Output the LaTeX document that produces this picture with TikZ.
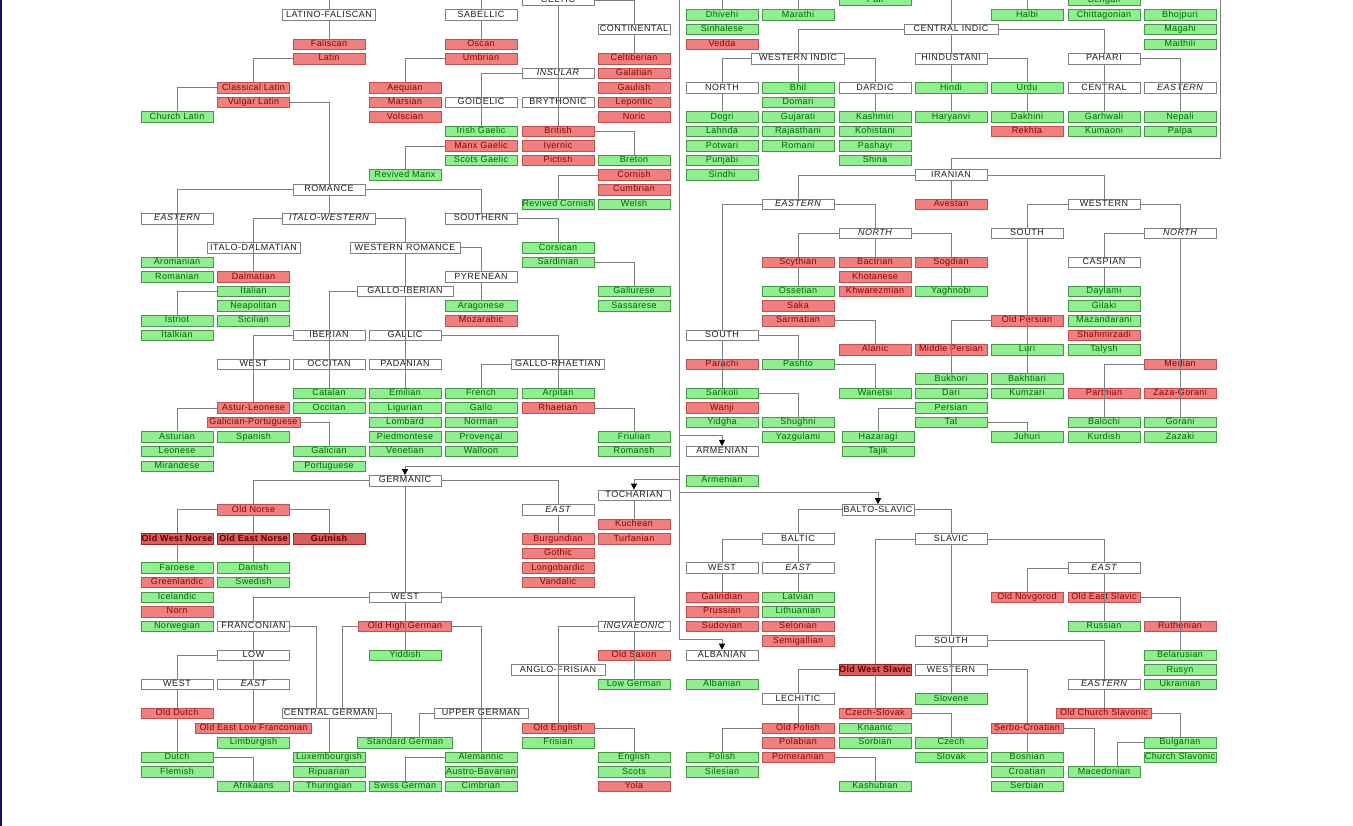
\documentclass[tikz,border=0pt]{standalone}
\usepackage{fontspec}
\setmainfont{Liberation Sans}
\newfontfamily\boxfont[LetterSpace=4]{Liberation Sans}
\newfontfamily\capfont[LetterSpace=6]{Liberation Sans}
\usetikzlibrary{arrows.meta}
\definecolor{gfill}{RGB}{144,238,144}
\definecolor{gdraw}{RGB}{70,150,70}
\definecolor{gtext}{RGB}{0,100,0}
\definecolor{rfill}{RGB}{240,128,128}
\definecolor{rdraw}{RGB}{190,80,80}
\definecolor{rtext}{RGB}{139,0,0}
\definecolor{drfill}{RGB}{218,92,92}
\definecolor{drdraw}{RGB}{150,40,40}
\definecolor{drtext}{RGB}{90,0,0}
\definecolor{wdraw}{RGB}{128,128,128}
\definecolor{wtext}{RGB}{30,30,30}
\definecolor{lcol}{RGB}{125,125,125}
\definecolor{edge}{RGB}{20,20,90}
\def\XA{177}\def\XB{253.5}\def\XC{329}\def\XD{405}\def\XE{481}\def\XF{558}\def\XG{634}
\def\XH{722}\def\XI{798}\def\XJ{875}\def\XJp{878}\def\XK{951}\def\XL{1027}\def\XM{1104}\def\XN{1180}
\newcommand\nd[6]{\node[#1,#2] (#3) at (#4,{-0.45-14.553*#5}) {#6};}
\tikzset{
  bx/.style={draw, minimum width=72pt, minimum height=10.5pt, inner sep=0pt,
    text height=6.4pt, text depth=1.9pt, font=\boxfont\fontsize{9}{10}\selectfont, line width=0.7pt},
  gn/.style={bx, fill=gfill, draw=gdraw, text=gtext},
  rd/.style={bx, fill=rfill, draw=rdraw, text=rtext},
  dr/.style={bx, fill=drfill, draw=drdraw, text=drtext, font=\boxfont\fontsize{9}{10}\selectfont\bfseries},
  wh/.style={bx, fill=white, draw=wdraw, text=wtext, font=\capfont\fontsize{9}{10}\selectfont},
  it/.style={font=\capfont\fontsize{9}{10}\selectfont\itshape},
  wd/.style={minimum width=#1pt},
  ln/.style={draw=lcol, line width=0.8pt},
  ar/.style={ln, -{Triangle[width=6pt,length=6pt,color=black,fill=black]}},
}
\begin{document}
\begin{tikzpicture}[x=1pt,y=1pt]
\useasboundingbox (0,0) rectangle (1353,-826);
\clip (0,0) rectangle (1353,-826);
\fill[white] (0,0) rectangle (1353,-826);
\fill[edge] (0,0) rectangle (1.6,-826);

% ---------------- Italic / Celtic
\nd{wh}{wd=93}{LatFal}{\XC}{1}{LATINO-FALISCAN}
\nd{wh}{}{Sabellic}{\XE}{1}{SABELLIC}
\nd{rd}{}{Faliscan}{\XC}{3}{Faliscan}
\nd{rd}{}{Latin}{\XC}{4}{Latin}
\nd{rd}{}{ClassLat}{\XB}{6}{Classical Latin}
\nd{rd}{}{VulgLat}{\XB}{7}{Vulgar Latin}
\nd{gn}{}{ChurchLat}{\XA}{8}{Church Latin}
\nd{rd}{}{Oscan}{\XE}{3}{Oscan}
\nd{rd}{}{Umbrian}{\XE}{4}{Umbrian}
\nd{rd}{}{Aequian}{\XD}{6}{Aequian}
\nd{rd}{}{Marsian}{\XD}{7}{Marsian}
\nd{rd}{}{Volscian}{\XD}{8}{Volscian}

\nd{wh}{}{Celtic}{\XF}{0}{CELTIC}
\nd{wh}{}{Continental}{\XG}{2}{CONTINENTAL}
\nd{rd}{}{Celtiberian}{\XG}{4}{Celtiberian}
\nd{rd}{}{Galatian}{\XG}{5}{Galatian}
\nd{rd}{}{Gaulish}{\XG}{6}{Gaulish}
\nd{rd}{}{Lepontic}{\XG}{7}{Lepontic}
\nd{rd}{}{Noric}{\XG}{8}{Noric}
\nd{wh}{it}{Insular}{\XF}{5}{INSULAR}
\nd{wh}{}{Goidelic}{\XE}{7}{GOIDELIC}
\nd{wh}{}{Brythonic}{\XF}{7}{BRYTHONIC}
\nd{gn}{}{IrishG}{\XE}{9}{Irish Gaelic}
\nd{rd}{}{ManxG}{\XE}{10}{Manx Gaelic}
\nd{gn}{}{ScotsG}{\XE}{11}{Scots Gaelic}
\nd{gn}{}{RevManx}{\XD}{12}{Revived Manx}
\nd{rd}{}{British}{\XF}{9}{British}
\nd{rd}{}{Ivernic}{\XF}{10}{Ivernic}
\nd{rd}{}{Pictish}{\XF}{11}{Pictish}
\nd{gn}{}{Breton}{\XG}{11}{Breton}
\nd{rd}{}{Cornish}{\XG}{12}{Cornish}
\nd{rd}{}{Cumbrian}{\XG}{13}{Cumbrian}
\nd{gn}{}{Welsh}{\XG}{14}{Welsh}
\nd{gn}{}{RevCornish}{\XF}{14}{Revived Cornish}

% ---------------- Romance
\nd{wh}{}{Romance}{\XC}{13}{ROMANCE}
\nd{wh}{it}{EasternR}{\XA}{15}{EASTERN}
\nd{wh}{it,wd=93}{ItaloWest}{\XC}{15}{ITALO-WESTERN}
\nd{wh}{}{Southern}{\XE}{15}{SOUTHERN}
\nd{wh}{wd=93}{ItaloDalm}{\XB}{17}{ITALO-DALMATIAN}
\nd{wh}{wd=110}{WestRom}{\XD}{17}{WESTERN ROMANCE}
\nd{gn}{}{Corsican}{\XF}{17}{Corsican}
\nd{gn}{}{Sardinian}{\XF}{18}{Sardinian}
\nd{gn}{}{Aromanian}{\XA}{18}{Aromanian}
\nd{gn}{}{Romanian}{\XA}{19}{Romanian}
\nd{rd}{}{Dalmatian}{\XB}{19}{Dalmatian}
\nd{gn}{}{Italian}{\XB}{20}{Italian}
\nd{gn}{}{Neapolitan}{\XB}{21}{Neapolitan}
\nd{gn}{}{Sicilian}{\XB}{22}{Sicilian}
\nd{gn}{}{Istriot}{\XA}{22}{Istriot}
\nd{gn}{}{Italkian}{\XA}{23}{Italkian}
\nd{wh}{}{Pyrenean}{\XE}{19}{PYRENEAN}
\nd{wh}{wd=96}{GalloIber}{\XD}{20}{GALLO-IBERIAN}
\nd{gn}{}{Gallurese}{\XG}{20}{Gallurese}
\nd{gn}{}{Sassarese}{\XG}{21}{Sassarese}
\nd{gn}{}{Aragonese}{\XE}{21}{Aragonese}
\nd{rd}{}{Mozarabic}{\XE}{22}{Mozarabic}
\nd{wh}{}{Iberian}{\XC}{23}{IBERIAN}
\nd{wh}{}{Gallic}{\XD}{23}{GALLIC}
\nd{wh}{}{WestIb}{\XB}{25}{WEST}
\nd{wh}{}{OccitanG}{\XC}{25}{OCCITAN}
\nd{wh}{}{Padanian}{\XD}{25}{PADANIAN}
\nd{wh}{wd=93}{GalloRhaet}{\XF}{25}{GALLO-RHAETIAN}
\nd{gn}{}{Catalan}{\XC}{27}{Catalan}
\nd{gn}{}{Occitan}{\XC}{28}{Occitan}
\nd{gn}{}{Emilian}{\XD}{27}{Emilian}
\nd{gn}{}{Ligurian}{\XD}{28}{Ligurian}
\nd{gn}{}{Lombard}{\XD}{29}{Lombard}
\nd{gn}{}{Piedmontese}{\XD}{30}{Piedmontese}
\nd{gn}{}{Venetian}{\XD}{31}{Venetian}
\nd{gn}{}{French}{\XE}{27}{French}
\nd{gn}{}{Gallo}{\XE}{28}{Gallo}
\nd{gn}{}{Norman}{\XE}{29}{Norman}
\nd{gn}{}{Provencal}{\XE}{30}{Provençal}
\nd{gn}{}{Walloon}{\XE}{31}{Walloon}
\nd{gn}{}{Arpitan}{\XF}{27}{Arpitan}
\nd{rd}{}{Rhaetian}{\XF}{28}{Rhaetian}
\nd{gn}{}{Friulian}{\XG}{30}{Friulian}
\nd{gn}{}{Romansh}{\XG}{31}{Romansh}
\nd{rd}{}{AsturLeon}{\XB}{28}{Astur-Leonese}
\nd{rd}{wd=93}{GalPort}{\XB}{29}{Galician-Portuguese}
\nd{gn}{}{Spanish}{\XB}{30}{Spanish}
\nd{gn}{}{Asturian}{\XA}{30}{Asturian}
\nd{gn}{}{Leonese}{\XA}{31}{Leonese}
\nd{gn}{}{Mirandese}{\XA}{32}{Mirandese}
\nd{gn}{}{Galician}{\XC}{31}{Galician}
\nd{gn}{}{Portuguese}{\XC}{32}{Portuguese}

% ---------------- Germanic / Tocharian
\nd{wh}{}{Germanic}{\XD}{33}{GERMANIC}
\nd{wh}{}{Tocharian}{\XG}{34}{TOCHARIAN}
\nd{rd}{}{OldNorse}{\XB}{35}{Old Norse}
\nd{wh}{it}{EastG}{\XF}{35}{EAST}
\nd{rd}{}{Kuchean}{\XG}{36}{Kuchean}
\nd{rd}{}{Turfanian}{\XG}{37}{Turfanian}
\nd{dr}{}{OWN}{\XA}{37}{Old West Norse}
\nd{dr}{}{OEN}{\XB}{37}{Old East Norse}
\nd{dr}{}{Gutnish}{\XC}{37}{Gutnish}
\nd{rd}{}{Burgundian}{\XF}{37}{Burgundian}
\nd{rd}{}{Gothic}{\XF}{38}{Gothic}
\nd{rd}{}{Longobardic}{\XF}{39}{Longobardic}
\nd{rd}{}{Vandalic}{\XF}{40}{Vandalic}
\nd{gn}{}{Faroese}{\XA}{39}{Faroese}
\nd{rd}{}{Greenlandic}{\XA}{40}{Greenlandic}
\nd{gn}{}{Icelandic}{\XA}{41}{Icelandic}
\nd{rd}{}{Norn}{\XA}{42}{Norn}
\nd{gn}{}{Norwegian}{\XA}{43}{Norwegian}
\nd{gn}{}{Danish}{\XB}{39}{Danish}
\nd{gn}{}{Swedish}{\XB}{40}{Swedish}
\nd{wh}{}{WestG}{\XD}{41}{WEST}
\nd{wh}{}{Franconian}{\XB}{43}{FRANCONIAN}
\nd{rd}{wd=93}{OHG}{\XD}{43}{Old High German}
\nd{wh}{it}{Ingvaeonic}{\XG}{43}{INGVAEONIC}
\nd{wh}{}{Low}{\XB}{45}{LOW}
\nd{gn}{}{Yiddish}{\XD}{45}{Yiddish}
\nd{rd}{}{OldSaxon}{\XG}{45}{Old Saxon}
\nd{wh}{wd=94}{AngloFris}{\XF}{46}{ANGLO-FRISIAN}
\nd{wh}{}{WestL}{\XA}{47}{WEST}
\nd{wh}{it}{EastL}{\XB}{47}{EAST}
\nd{gn}{}{LowGerman}{\XG}{47}{Low German}
\nd{rd}{}{OldDutch}{\XA}{49}{Old Dutch}
\nd{wh}{wd=94}{CentralG}{\XC}{49}{CENTRAL GERMAN}
\nd{wh}{wd=94}{UpperG}{\XE}{49}{UPPER GERMAN}
\nd{rd}{wd=116}{OELF}{\XB}{50}{Old East Low Franconian}
\nd{rd}{}{OldEnglish}{\XF}{50}{Old English}
\nd{gn}{}{Limburgish}{\XB}{51}{Limburgish}
\nd{gn}{wd=95}{StdGerman}{\XD}{51}{Standard German}
\nd{gn}{}{Frisian}{\XF}{51}{Frisian}
\nd{gn}{}{Dutch}{\XA}{52}{Dutch}
\nd{gn}{}{Flemish}{\XA}{53}{Flemish}
\nd{gn}{}{Luxembourgish}{\XC}{52}{Luxembourgish}
\nd{gn}{}{Ripuarian}{\XC}{53}{Ripuarian}
\nd{gn}{}{Thuringian}{\XC}{54}{Thuringian}
\nd{gn}{}{Alemannic}{\XE}{52}{Alemannic}
\nd{gn}{}{AustroBav}{\XE}{53}{Austro-Bavarian}
\nd{gn}{}{Cimbrian}{\XE}{54}{Cimbrian}
\nd{gn}{}{English}{\XG}{52}{English}
\nd{gn}{}{Scots}{\XG}{53}{Scots}
\nd{rd}{}{Yola}{\XG}{54}{Yola}
\nd{gn}{}{Afrikaans}{\XB}{54}{Afrikaans}
\nd{gn}{}{SwissGerman}{\XD}{54}{Swiss German}

% ---------------- Indo-Aryan
\nd{gn}{}{Pali}{\XJ}{0}{Pali}
\nd{gn}{}{Bengali}{\XM}{0}{Bengali}
\nd{gn}{}{Dhivehi}{\XH}{1}{Dhivehi}
\nd{gn}{}{Sinhalese}{\XH}{2}{Sinhalese}
\nd{rd}{}{Vedda}{\XH}{3}{Vedda}
\nd{gn}{}{Marathi}{\XI}{1}{Marathi}
\nd{gn}{}{Halbi}{\XL}{1}{Halbi}
\nd{gn}{}{Chittagonian}{\XM}{1}{Chittagonian}
\nd{gn}{}{Bhojpuri}{\XN}{1}{Bhojpuri}
\nd{gn}{}{Magahi}{\XN}{2}{Magahi}
\nd{gn}{}{Maithili}{\XN}{3}{Maithili}
\nd{wh}{wd=94}{CentralIndic}{\XK}{2}{CENTRAL INDIC}
\nd{wh}{wd=93}{WestIndic}{\XI}{4}{WESTERN INDIC}
\nd{wh}{}{Hindustani}{\XK}{4}{HINDUSTANI}
\nd{wh}{}{Pahari}{\XM}{4}{PAHARI}
\nd{wh}{}{NorthIA}{\XH}{6}{NORTH}
\nd{gn}{}{Bhil}{\XI}{6}{Bhil}
\nd{gn}{}{Domari}{\XI}{7}{Domari}
\nd{gn}{}{Gujarati}{\XI}{8}{Gujarati}
\nd{gn}{}{Rajasthani}{\XI}{9}{Rajasthani}
\nd{gn}{}{Romani}{\XI}{10}{Romani}
\nd{wh}{}{Dardic}{\XJ}{6}{DARDIC}
\nd{gn}{}{Hindi}{\XK}{6}{Hindi}
\nd{gn}{}{Haryanvi}{\XK}{8}{Haryanvi}
\nd{gn}{}{Urdu}{\XL}{6}{Urdu}
\nd{gn}{}{Dakhini}{\XL}{8}{Dakhini}
\nd{rd}{}{Rekhta}{\XL}{9}{Rekhta}
\nd{wh}{}{CentralP}{\XM}{6}{CENTRAL}
\nd{wh}{it}{EasternP}{\XN}{6}{EASTERN}
\nd{gn}{}{Garhwali}{\XM}{8}{Garhwali}
\nd{gn}{}{Kumaoni}{\XM}{9}{Kumaoni}
\nd{gn}{}{Nepali}{\XN}{8}{Nepali}
\nd{gn}{}{Palpa}{\XN}{9}{Palpa}
\nd{gn}{}{Dogri}{\XH}{8}{Dogri}
\nd{gn}{}{Lahnda}{\XH}{9}{Lahnda}
\nd{gn}{}{Potwari}{\XH}{10}{Potwari}
\nd{gn}{}{Punjabi}{\XH}{11}{Punjabi}
\nd{gn}{}{Sindhi}{\XH}{12}{Sindhi}
\nd{gn}{}{Kashmiri}{\XJ}{8}{Kashmiri}
\nd{gn}{}{Kohistani}{\XJ}{9}{Kohistani}
\nd{gn}{}{Pashayi}{\XJ}{10}{Pashayi}
\nd{gn}{}{Shina}{\XJ}{11}{Shina}

% ---------------- Iranian
\nd{wh}{}{Iranian}{\XK}{12}{IRANIAN}
\nd{wh}{it}{EasternI}{\XI}{14}{EASTERN}
\nd{rd}{}{Avestan}{\XK}{14}{Avestan}
\nd{wh}{}{WesternI}{\XM}{14}{WESTERN}
\nd{wh}{it}{NorthE}{\XJ}{16}{NORTH}
\nd{wh}{}{SouthW}{\XL}{16}{SOUTH}
\nd{wh}{it}{NorthW}{\XN}{16}{NORTH}
\nd{rd}{}{Scythian}{\XI}{18}{Scythian}
\nd{rd}{}{Bactrian}{\XJ}{18}{Bactrian}
\nd{rd}{}{Sogdian}{\XK}{18}{Sogdian}
\nd{wh}{}{Caspian}{\XM}{18}{CASPIAN}
\nd{rd}{}{Khotanese}{\XJ}{19}{Khotanese}
\nd{gn}{}{Ossetian}{\XI}{20}{Ossetian}
\nd{rd}{}{Khwarezmian}{\XJ}{20}{Khwarezmian}
\nd{gn}{}{Yaghnobi}{\XK}{20}{Yaghnobi}
\nd{gn}{}{Daylami}{\XM}{20}{Daylami}
\nd{rd}{}{Saka}{\XI}{21}{Saka}
\nd{gn}{}{Gilaki}{\XM}{21}{Gilaki}
\nd{rd}{}{Sarmatian}{\XI}{22}{Sarmatian}
\nd{rd}{}{OldPersian}{\XL}{22}{Old Persian}
\nd{gn}{}{Mazandarani}{\XM}{22}{Mazandarani}
\nd{wh}{}{SouthE}{\XH}{23}{SOUTH}
\nd{rd}{}{Shahmirzadi}{\XM}{23}{Shahmirzadi}
\nd{rd}{}{Alanic}{\XJ}{24}{Alanic}
\nd{rd}{}{MidPersian}{\XK}{24}{Middle Persian}
\nd{gn}{}{Luri}{\XL}{24}{Luri}
\nd{gn}{}{Talysh}{\XM}{24}{Talysh}
\nd{rd}{}{Parachi}{\XH}{25}{Parachi}
\nd{gn}{}{Pashto}{\XI}{25}{Pashto}
\nd{rd}{}{Median}{\XN}{25}{Median}
\nd{gn}{}{Bukhori}{\XK}{26}{Bukhori}
\nd{gn}{}{Bakhtiari}{\XL}{26}{Bakhtiari}
\nd{gn}{}{Sarikoli}{\XH}{27}{Sarikoli}
\nd{gn}{}{Wanetsi}{\XJ}{27}{Wanetsi}
\nd{gn}{}{Dari}{\XK}{27}{Dari}
\nd{gn}{}{Kumzari}{\XL}{27}{Kumzari}
\nd{rd}{}{Parthian}{\XM}{27}{Parthian}
\nd{rd}{}{ZazaGorani}{\XN}{27}{Zaza-Gorani}
\nd{rd}{}{Wanji}{\XH}{28}{Wanji}
\nd{gn}{}{Persian}{\XK}{28}{Persian}
\nd{gn}{}{Yidgha}{\XH}{29}{Yidgha}
\nd{gn}{}{Shughni}{\XI}{29}{Shughni}
\nd{gn}{}{Tat}{\XK}{29}{Tat}
\nd{gn}{}{Balochi}{\XM}{29}{Balochi}
\nd{gn}{}{Gorani}{\XN}{29}{Gorani}
\nd{gn}{}{Yazgulami}{\XI}{30}{Yazgulami}
\nd{gn}{}{Hazaragi}{\XJp}{30}{Hazaragi}
\nd{gn}{}{Juhuri}{\XL}{30}{Juhuri}
\nd{gn}{}{Kurdish}{\XM}{30}{Kurdish}
\nd{gn}{}{Zazaki}{\XN}{30}{Zazaki}
\nd{gn}{}{Tajik}{\XJp}{31}{Tajik}
\nd{wh}{}{ArmenianG}{\XH}{31}{ARMENIAN}
\nd{gn}{}{Armenian}{\XH}{33}{Armenian}

% ---------------- Balto-Slavic / Albanian
\nd{wh}{}{BaltoSlavic}{\XJp}{35}{BALTO-SLAVIC}
\nd{wh}{}{Baltic}{\XI}{37}{BALTIC}
\nd{wh}{}{Slavic}{\XK}{37}{SLAVIC}
\nd{wh}{}{WestB}{\XH}{39}{WEST}
\nd{wh}{it}{EastB}{\XI}{39}{EAST}
\nd{wh}{it}{EastS}{\XM}{39}{EAST}
\nd{rd}{}{Galindian}{\XH}{41}{Galindian}
\nd{rd}{}{Prussian}{\XH}{42}{Prussian}
\nd{rd}{}{Sudovian}{\XH}{43}{Sudovian}
\nd{gn}{}{Latvian}{\XI}{41}{Latvian}
\nd{gn}{}{Lithuanian}{\XI}{42}{Lithuanian}
\nd{rd}{}{Selonian}{\XI}{43}{Selonian}
\nd{rd}{}{Semigallian}{\XI}{44}{Semigallian}
\nd{rd}{}{OldNovgorod}{\XL}{41}{Old Novgorod}
\nd{rd}{}{OES}{\XM}{41}{Old East Slavic}
\nd{gn}{}{Russian}{\XM}{43}{Russian}
\nd{rd}{}{Ruthenian}{\XN}{43}{Ruthenian}
\nd{wh}{}{SouthS}{\XK}{44}{SOUTH}
\nd{wh}{}{AlbanianG}{\XH}{45}{ALBANIAN}
\nd{gn}{}{Belarusian}{\XN}{45}{Belarusian}
\nd{gn}{}{Rusyn}{\XN}{46}{Rusyn}
\nd{gn}{}{Ukrainian}{\XN}{47}{Ukrainian}
\nd{dr}{}{OWS}{\XJ}{46}{Old West Slavic}
\nd{wh}{}{WesternS}{\XK}{46}{WESTERN}
\nd{gn}{}{Albanian}{\XH}{47}{Albanian}
\nd{wh}{it}{EasternS}{\XM}{47}{EASTERN}
\nd{wh}{}{Lechitic}{\XI}{48}{LECHITIC}
\nd{gn}{}{Slovene}{\XK}{48}{Slovene}
\nd{rd}{}{CzechSlovak}{\XJ}{49}{Czech-Slovak}
\nd{rd}{wd=95}{OCS}{\XM}{49}{Old Church Slavonic}
\nd{rd}{}{OldPolish}{\XI}{50}{Old Polish}
\nd{gn}{}{Knaanic}{\XJ}{50}{Knaanic}
\nd{rd}{}{SerboCroatian}{\XL}{50}{Serbo-Croatian}
\nd{rd}{}{Polabian}{\XI}{51}{Polabian}
\nd{gn}{}{Sorbian}{\XJ}{51}{Sorbian}
\nd{gn}{}{Czech}{\XK}{51}{Czech}
\nd{gn}{}{Bulgarian}{\XN}{51}{Bulgarian}
\nd{gn}{}{Polish}{\XH}{52}{Polish}
\nd{rd}{}{Pomeranian}{\XI}{52}{Pomeranian}
\nd{gn}{}{Slovak}{\XK}{52}{Slovak}
\nd{gn}{}{Bosnian}{\XL}{52}{Bosnian}
\nd{gn}{}{ChurchSlavonic}{\XN}{52}{Church Slavonic}
\nd{gn}{}{Silesian}{\XH}{53}{Silesian}
\nd{gn}{}{Croatian}{\XL}{53}{Croatian}
\nd{gn}{}{Macedonian}{\XM}{53}{Macedonian}
\nd{gn}{}{Kashubian}{\XJ}{54}{Kashubian}
\nd{gn}{}{Serbian}{\XL}{54}{Serbian}

% ================= connectors
\begin{scope}[ln]
% Italic
\draw (LatFal.north) -- ++(0,20);
\draw (Sabellic.north) -- ++(0,20);
\draw (LatFal.south) -- (Faliscan.north);
\draw (Latin.west) -| (ClassLat.north);
\draw (ClassLat.west) -| (ChurchLat.north);
\draw (VulgLat.east) -| (Romance.north);
\draw (Sabellic.south) -- (Oscan.north);
\draw (Umbrian.west) -| (Aequian.north);
% Celtic
\draw (Celtic.south) -- (British.north);
\draw (Celtic.east) -| (Continental.north);
\draw (Continental.south) -- (Celtiberian.north);
\draw (Insular.west) -| (IrishG.north);
\draw (ManxG.west) -| (RevManx.north);
\draw (British.east) -| (Breton.north);
\draw (Cornish.west) -| (RevCornish.north);
% Romance
\draw (Romance.west) -| (Aromanian.north);
\draw (Romance.south) -- (ItaloWest.north);
\draw (Romance.east) -| (Southern.north);
\draw (Southern.east) -| (Corsican.north);
\draw (Sardinian.east) -| (Gallurese.north);
\draw (ItaloWest.west) -| (Dalmatian.north);
\draw (ItaloWest.east) -| (WestRom.north);
\draw (Italian.west) -| (Istriot.north);
\draw (WestRom.east) -| (Pyrenean.north);
\draw (Pyrenean.south) -- (Aragonese.north);
\draw (WestRom.south) -- (GalloIber.north);
\draw (GalloIber.west) -| (Catalan.north);
\draw (GalloIber.south) -- (Emilian.north);
\draw (Iberian.west) -| (AsturLeon.north);
\draw (AsturLeon.west) -| (Asturian.north);
\draw (GalPort.east) -| (Galician.north);
\draw (Gallic.east) -| (Arpitan.north);
\draw (GalloRhaet.west) -| (French.north);
\draw (Rhaetian.east) -| (Friulian.north);
% Germanic
\draw (Germanic.west) -| (OldNorse.north);
\draw (Germanic.south) -- (WestG.north);
\draw (Germanic.east) -| (EastG.north);
\draw (EastG.south) -- (Burgundian.north);
\draw (Tocharian.south) -- (Kuchean.north);
\draw (OldNorse.west) -| (OWN.north);
\draw (OldNorse.south) -- (OEN.north);
\draw (OldNorse.east) -| (Gutnish.north);
\draw (OWN.south) -- (Faroese.north);
\draw (OEN.south) -- (Danish.north);
\draw (WestG.west) -| (Franconian.north);
\draw (WestG.east) -| (Ingvaeonic.north);
\draw (WestG.south) -- (Yiddish.north);
\draw (Franconian.south) -- (Low.north);
\draw (Franconian.east) -| ([xshift=-13pt]CentralG.north);
\draw (OHG.west) -| ([xshift=13pt]CentralG.north);
\draw (OHG.east) -| (Alemannic.north);
\draw (Low.west) -| (WestL.north);
\draw (Low.south) -- (EastL.north);
\draw (WestL.south) -- (OldDutch.north);
\draw (EastL.south) -- (OELF.north);
\draw (OldDutch.south) -- (Dutch.north);
\draw (Dutch.east) -| (Afrikaans.north);
\draw (CentralG.south) -- (Luxembourgish.north);
\draw (CentralG.east) -| ([xshift=-14pt]StdGerman.north);
\draw (UpperG.west) -| ([xshift=14pt]StdGerman.north);
\draw (Alemannic.west) -| (SwissGerman.north);
\draw (Ingvaeonic.south) -- (LowGerman.north);
\draw (Ingvaeonic.west) -| (OldEnglish.north);
\draw (OldEnglish.east) -| (English.north);
% Indo-Aryan
\draw (Dhivehi.north) -- ++(0,20);
\draw (Marathi.north) -- ++(0,20);
\draw (CentralIndic.north) -- ++(0,40);
\draw (Halbi.north) -- ++(0,20);
\draw (CentralIndic.west) -| (WestIndic.north);
\draw (CentralIndic.south) -- (Hindustani.north);
\draw (CentralIndic.east) -| (Pahari.north);
\draw (WestIndic.west) -| (NorthIA.north);
\draw (WestIndic.south) -- (Bhil.north);
\draw (WestIndic.east) -| (Dardic.north);
\draw (NorthIA.south) -- (Dogri.north);
\draw (Dardic.south) -- (Kashmiri.north);
\draw (Hindustani.south) -- (Hindi.north);
\draw (Hindustani.east) -| (Urdu.north);
\draw (Hindi.south) -- (Haryanvi.north);
\draw (Urdu.south) -- (Dakhini.north);
\draw (Pahari.south) -- (Garhwali.north);
\draw (Pahari.east) -| (Nepali.north);
% Iranian
\coordinate (iiroot) at (1220,10);
\coordinate (iibend) at ([yshift=10.6pt]Iranian.north);
\draw (iiroot) |- (iibend) -- (Iranian.north);
\draw (Iranian.south) -- (Avestan.north);
\draw (Iranian.west) -| (EasternI.north);
\draw (Iranian.east) -| (WesternI.north);
\draw (EasternI.west) -| (SouthE.north);
\draw (EasternI.east) -| (NorthE.north);
\draw (NorthE.west) -| (Scythian.north);
\draw (NorthE.south) -- (Bactrian.north);
\draw (NorthE.east) -| (Sogdian.north);
\draw (Scythian.south) -- (Ossetian.north);
\draw (Sogdian.south) -- (Yaghnobi.north);
\draw (Sarmatian.east) -| (Alanic.north);
\draw (SouthE.south) -- (Sarikoli.north);
\draw (SouthE.east) -| (Pashto.north);
\draw (Pashto.east) -| (Wanetsi.north);
\draw (Sarikoli.east) -| (Shughni.north);
\draw (WesternI.west) -| (SouthW.north);
\draw (WesternI.east) -| (NorthW.north);
\draw (SouthW.south) -- (Bakhtiari.north);
\draw (OldPersian.west) -| (Bukhori.north);
\draw (Persian.west) -| (Hazaragi.north);
\draw (Tat.east) -| (Juhuri.north);
\draw (NorthW.west) -| (Caspian.north);
\draw (NorthW.south) -- (Gorani.north);
\draw (Caspian.south) -- (Daylami.north);
\draw (Median.west) -| (Balochi.north);
% Balto-Slavic
\draw (BaltoSlavic.west) -| (Baltic.north);
\draw (BaltoSlavic.east) -| (Slavic.north);
\draw (Baltic.west) -| (WestB.north);
\draw (Baltic.south) -- (EastB.north);
\draw (WestB.south) -- (Galindian.north);
\draw (EastB.south) -- (Latvian.north);
\draw (Slavic.west) -| (OWS.north);
\draw (Slavic.south) -- (SouthS.north);
\draw (Slavic.east) -| (EastS.north);
\draw (EastS.west) -| (OldNovgorod.north);
\draw (EastS.south) -- (Russian.north);
\draw (OES.east) -| (Belarusian.north);
\draw (SouthS.south) -- (Slovene.north);
\draw (SouthS.east) -| (EasternS.north);
\draw (WesternS.east) -| (SerboCroatian.north);
\draw (SerboCroatian.south) -- (Bosnian.north);
\draw (SerboCroatian.east) -| ([xshift=-10pt]Macedonian.north);
\draw (EasternS.south) -- (OCS.north);
\draw (OCS.east) -| (Bulgarian.north);
\draw (Bulgarian.west) -| ([xshift=13pt]Macedonian.north);
\draw (OWS.west) -| (Lechitic.north);
\draw (OWS.south) -- (CzechSlovak.north);
\draw (CzechSlovak.east) -| (Czech.north);
\draw (Lechitic.south) -- (OldPolish.north);
\draw (OldPolish.west) -| (Polish.north);
\draw (Pomeranian.east) -| (Kashubian.north);
\end{scope}

% ---------------- Indo-European trunk with arrows
\coordinate (ie) at (679,10);
\coordinate (aAlb) at ([yshift=10.6pt]AlbanianG.north);
\coordinate (aArm) at ([yshift=10.6pt]ArmenianG.north);
\coordinate (aGer) at ([yshift=9pt]Germanic.north);
\coordinate (aToc) at ([yshift=10.6pt]Tocharian.north);
\coordinate (aBS) at ([yshift=12pt]BaltoSlavic.north);
\draw[ar] (ie) |- (aAlb) -- (AlbanianG.north);
\draw[ar] (ie |- aArm) -- (aArm) -- (ArmenianG.north);
\draw[ar] (ie |- aGer) -- (aGer) -- (Germanic.north);
\draw[ar] (ie |- aToc) -- (aToc) -- (Tocharian.north);
\draw[ar] (ie |- aBS) -- (aBS) -- (BaltoSlavic.north);
\end{tikzpicture}
\end{document}
